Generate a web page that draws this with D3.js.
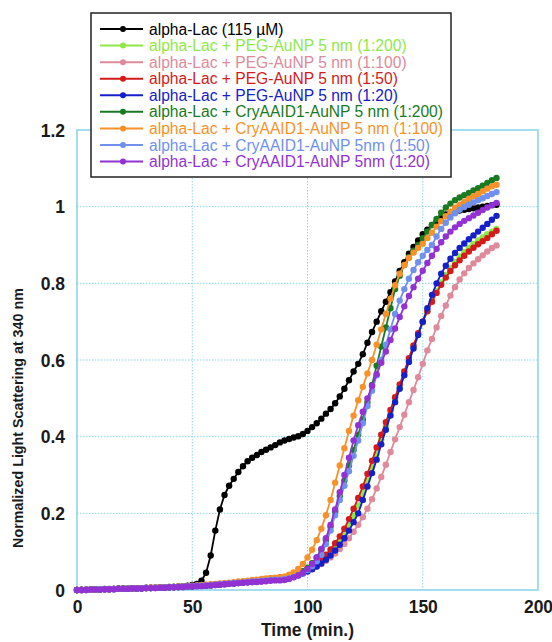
<!DOCTYPE html>
<html>
<head>
<meta charset="utf-8">
<script src="https://cdn.jsdelivr.net/npm/d3@7/dist/d3.min.js"></script>
<style>
  html, body { margin: 0; padding: 0; background: #fff; }
  svg { display: block; font-family: "Liberation Sans", Arial, sans-serif; }
</style>
</head>
<body>
<svg id="chart" width="552" height="642"></svg>
<script>
// Sampling times (min)
const times = [0,2,4,6,8,10,12,14,16,18,20,22,24,26,28,30,32,34,36,38,40,42,44,46,48,50,52,54,56,58,60,62,64,66,68,70,72,74,76,78,80,82,84,86,88,90,92,94,96,98,100,102,104,106,108,110,112,114,116,118,120,122,124,126,128,130,132,134,136,138,140,142,144,146,148,150,152,154,156,158,160,162,164,166,168,170,172,174,176,178,180,182];

// Normalized light scattering at 340 nm, one array per sample
const alphaLac = [0.000,0.001,0.001,0.002,0.002,0.002,0.003,0.003,0.003,0.004,0.004,0.004,0.005,0.005,0.005,0.006,0.006,0.006,0.007,0.007,0.008,0.008,0.009,0.010,0.011,0.013,0.016,0.024,0.045,0.090,0.155,0.210,0.248,0.272,0.290,0.308,0.323,0.336,0.345,0.352,0.360,0.366,0.372,0.378,0.385,0.390,0.394,0.398,0.401,0.407,0.415,0.425,0.435,0.447,0.460,0.472,0.487,0.505,0.525,0.547,0.570,0.590,0.615,0.645,0.673,0.700,0.727,0.752,0.777,0.805,0.832,0.855,0.877,0.895,0.912,0.928,0.940,0.952,0.962,0.972,0.980,0.984,0.987,0.990,0.992,0.994,0.996,0.998,1.000,1.002,1.004,1.005];

const peg200 = [0.000,0.000,0.001,0.001,0.001,0.002,0.002,0.002,0.003,0.003,0.003,0.004,0.004,0.004,0.005,0.005,0.005,0.006,0.006,0.007,0.007,0.008,0.008,0.009,0.009,0.010,0.011,0.011,0.012,0.013,0.014,0.015,0.016,0.017,0.018,0.019,0.020,0.021,0.022,0.024,0.025,0.027,0.029,0.031,0.032,0.033,0.035,0.037,0.041,0.045,0.051,0.057,0.065,0.074,0.085,0.097,0.112,0.128,0.147,0.169,0.193,0.220,0.252,0.285,0.320,0.355,0.392,0.428,0.463,0.497,0.530,0.565,0.600,0.634,0.667,0.698,0.728,0.755,0.780,0.802,0.822,0.840,0.856,0.870,0.882,0.893,0.903,0.912,0.920,0.928,0.935,0.942];

const peg100 = [0.000,0.000,0.001,0.001,0.001,0.002,0.002,0.002,0.003,0.003,0.003,0.004,0.004,0.004,0.005,0.005,0.005,0.006,0.006,0.007,0.007,0.008,0.008,0.009,0.009,0.010,0.011,0.011,0.012,0.013,0.014,0.015,0.016,0.017,0.018,0.019,0.020,0.021,0.022,0.023,0.024,0.026,0.028,0.030,0.032,0.033,0.035,0.038,0.041,0.045,0.050,0.055,0.061,0.068,0.076,0.085,0.095,0.107,0.120,0.135,0.152,0.170,0.190,0.212,0.237,0.265,0.295,0.327,0.360,0.393,0.425,0.457,0.490,0.522,0.555,0.590,0.625,0.655,0.685,0.715,0.742,0.768,0.790,0.810,0.826,0.840,0.852,0.863,0.873,0.883,0.892,0.899];

const peg50 = [0.000,0.000,0.001,0.001,0.001,0.002,0.002,0.002,0.003,0.003,0.003,0.004,0.004,0.004,0.005,0.005,0.006,0.006,0.006,0.007,0.007,0.008,0.008,0.009,0.010,0.010,0.011,0.012,0.013,0.014,0.015,0.016,0.017,0.018,0.019,0.020,0.021,0.022,0.023,0.025,0.026,0.028,0.030,0.031,0.033,0.034,0.036,0.039,0.043,0.048,0.054,0.061,0.070,0.080,0.092,0.106,0.122,0.140,0.160,0.185,0.212,0.240,0.270,0.303,0.337,0.372,0.405,0.438,0.470,0.503,0.536,0.570,0.605,0.638,0.670,0.700,0.727,0.752,0.775,0.796,0.815,0.832,0.847,0.860,0.872,0.883,0.893,0.902,0.910,0.918,0.928,0.937];

const peg20 = [0.000,0.000,0.000,0.001,0.001,0.001,0.002,0.002,0.002,0.003,0.003,0.003,0.004,0.004,0.004,0.005,0.005,0.005,0.006,0.006,0.007,0.007,0.008,0.008,0.009,0.009,0.010,0.011,0.011,0.012,0.013,0.014,0.015,0.016,0.017,0.018,0.019,0.020,0.021,0.022,0.023,0.025,0.027,0.029,0.030,0.032,0.034,0.036,0.039,0.043,0.048,0.054,0.061,0.069,0.079,0.090,0.103,0.118,0.135,0.155,0.177,0.200,0.235,0.270,0.305,0.340,0.380,0.418,0.455,0.490,0.525,0.560,0.595,0.630,0.665,0.700,0.735,0.770,0.800,0.825,0.846,0.864,0.879,0.892,0.904,0.915,0.925,0.935,0.945,0.955,0.966,0.976];

const cry200 = [0.000,0.000,0.001,0.001,0.001,0.002,0.002,0.002,0.003,0.003,0.003,0.004,0.004,0.004,0.005,0.005,0.005,0.006,0.006,0.007,0.007,0.008,0.008,0.009,0.009,0.010,0.011,0.011,0.012,0.013,0.014,0.015,0.016,0.017,0.018,0.019,0.020,0.021,0.022,0.023,0.024,0.025,0.026,0.027,0.028,0.030,0.033,0.037,0.042,0.049,0.058,0.070,0.085,0.105,0.130,0.165,0.205,0.245,0.285,0.325,0.365,0.405,0.445,0.490,0.535,0.585,0.635,0.685,0.735,0.785,0.820,0.848,0.868,0.885,0.900,0.918,0.935,0.952,0.968,0.984,0.998,1.008,1.017,1.024,1.030,1.036,1.042,1.048,1.055,1.062,1.069,1.075];

const cry100 = [0.000,0.000,0.001,0.001,0.001,0.002,0.002,0.002,0.003,0.003,0.003,0.004,0.004,0.005,0.005,0.005,0.006,0.006,0.007,0.007,0.008,0.008,0.009,0.009,0.010,0.011,0.012,0.013,0.014,0.015,0.016,0.017,0.018,0.019,0.020,0.022,0.023,0.024,0.026,0.027,0.029,0.030,0.031,0.032,0.033,0.035,0.040,0.046,0.055,0.068,0.085,0.105,0.130,0.160,0.195,0.235,0.280,0.325,0.370,0.415,0.455,0.495,0.530,0.565,0.600,0.640,0.680,0.720,0.760,0.795,0.825,0.848,0.866,0.880,0.892,0.903,0.918,0.932,0.948,0.962,0.975,0.987,0.997,1.005,1.012,1.020,1.027,1.033,1.040,1.047,1.053,1.057];

const cry50 = [0.000,0.000,0.001,0.001,0.001,0.002,0.002,0.002,0.003,0.003,0.003,0.004,0.004,0.004,0.005,0.005,0.005,0.006,0.006,0.007,0.007,0.008,0.008,0.009,0.009,0.010,0.011,0.011,0.012,0.013,0.014,0.015,0.016,0.017,0.018,0.019,0.020,0.021,0.022,0.023,0.024,0.025,0.026,0.027,0.027,0.028,0.031,0.034,0.038,0.044,0.052,0.062,0.075,0.092,0.120,0.155,0.195,0.235,0.272,0.310,0.350,0.390,0.435,0.480,0.520,0.560,0.600,0.640,0.680,0.720,0.755,0.785,0.812,0.835,0.855,0.872,0.887,0.900,0.922,0.942,0.958,0.972,0.983,0.992,0.999,1.005,1.011,1.017,1.022,1.028,1.033,1.038];

const cry20 = [0.000,0.000,0.000,0.001,0.001,0.001,0.002,0.002,0.002,0.003,0.003,0.003,0.004,0.004,0.004,0.005,0.005,0.005,0.006,0.006,0.007,0.007,0.008,0.008,0.009,0.009,0.010,0.010,0.011,0.012,0.013,0.014,0.015,0.016,0.017,0.018,0.019,0.020,0.021,0.021,0.022,0.023,0.024,0.025,0.025,0.026,0.029,0.033,0.038,0.045,0.055,0.068,0.085,0.107,0.135,0.170,0.210,0.255,0.300,0.345,0.390,0.430,0.465,0.500,0.532,0.563,0.593,0.622,0.652,0.682,0.712,0.740,0.767,0.790,0.812,0.833,0.853,0.872,0.890,0.907,0.922,0.935,0.946,0.955,0.963,0.970,0.977,0.984,0.991,0.998,1.004,1.010];

const seriesNames = [
  "alpha-Lac (115 \u00b5M)",
  "alpha-Lac + PEG-AuNP 5 nm (1:200)",
  "alpha-Lac + PEG-AuNP 5 nm (1:100)",
  "alpha-Lac + PEG-AuNP 5 nm (1:50)",
  "alpha-Lac + PEG-AuNP 5 nm (1:20)",
  "alpha-Lac + CryAAID1-AuNP 5 nm (1:200)",
  "alpha-Lac + CryAAID1-AuNP 5 nm (1:100)",
  "alpha-Lac + CryAAID1-AuNP 5nm (1:50)",
  "alpha-Lac + CryAAID1-AuNP 5nm (1:20)"
];
const seriesValues = [alphaLac, peg200, peg100, peg50, peg20, cry200, cry100, cry50, cry20];
const seriesColors = ["#000000", "#8ee84a", "#de8a9a", "#d41a1a", "#1620c8", "#1a7a22", "#f7922a", "#7090ee", "#9232d2"];

const xTicks = [0, 50, 100, 150, 200];
const yTicks = [0, 0.2, 0.4, 0.6, 0.8, 1, 1.2];

const svg = d3.select("#chart");
const plotLeft = 77, plotRight = 538, plotTop = 130, plotBottom = 590;

const x = d3.scaleLinear().domain([0, 200]).range([plotLeft, plotRight]);
const y = d3.scaleLinear().domain([0, 1.2]).range([plotBottom, plotTop]);

const gridColor = "#8fd6ea";

// dotted grid lines
const grid = svg.append("g");
grid.selectAll("line.vx").data(xTicks.slice(1, -1)).join("line")
  .attr("x1", d => x(d)).attr("x2", d => x(d))
  .attr("y1", plotTop).attr("y2", plotBottom)
  .attr("stroke", gridColor).attr("stroke-width", 1).attr("stroke-dasharray", "1.5,1.5");
grid.selectAll("line.hy").data(yTicks.slice(1, -1)).join("line")
  .attr("x1", plotLeft).attr("x2", plotRight)
  .attr("y1", d => y(d)).attr("y2", d => y(d))
  .attr("stroke", gridColor).attr("stroke-width", 1).attr("stroke-dasharray", "1.5,1.5");

// plot frame
svg.append("rect")
  .attr("x", plotLeft).attr("y", plotTop)
  .attr("width", plotRight - plotLeft).attr("height", plotBottom - plotTop)
  .attr("fill", "none").attr("stroke", "#86d2ea").attr("stroke-width", 1.5);

// axes
const xAxis = svg.append("g")
  .attr("transform", `translate(0,${plotBottom})`)
  .call(d3.axisBottom(x).tickValues(xTicks).tickSize(0).tickPadding(0).tickFormat(d3.format("d")));
xAxis.select(".domain").remove();
xAxis.selectAll("text")
  .attr("y", 23).attr("dy", 0)
  .attr("font-size", 17.5).attr("font-weight", "bold").attr("fill", "#1a1a1a")
  .attr("font-family", "Liberation Sans, Arial, sans-serif");

const yAxis = svg.append("g")
  .attr("transform", `translate(${plotLeft},0)`)
  .call(d3.axisLeft(y).tickValues(yTicks).tickSize(0).tickPadding(0).tickFormat(d => String(+d.toFixed(1))));
yAxis.select(".domain").remove();
yAxis.selectAll("text")
  .attr("x", -12).attr("dy", "0.35em")
  .attr("font-size", 17.5).attr("font-weight", "bold").attr("fill", "#1a1a1a")
  .attr("font-family", "Liberation Sans, Arial, sans-serif");

// axis titles
svg.append("text")
  .attr("x", (plotLeft + plotRight) / 2).attr("y", 636)
  .attr("text-anchor", "middle")
  .attr("font-size", 17.5).attr("font-weight", "bold").attr("fill", "#1a1a1a")
  .text("Time (min.)");
svg.append("text")
  .attr("transform", "translate(23,418) rotate(-90)")
  .attr("text-anchor", "middle")
  .attr("font-size", 14.3).attr("font-weight", "bold").attr("fill", "#1a1a1a")
  .text("Normalized Light Scattering at 340 nm");

// data series
const line = d3.line().x(d => x(d[0])).y(d => y(d[1]));
const plot = svg.append("g");
seriesValues.forEach((vals, i) => {
  const pts = times.map((t, k) => [t, vals[k]]);
  const g = plot.append("g");
  g.append("path").datum(pts)
    .attr("d", line).attr("fill", "none")
    .attr("stroke", seriesColors[i]).attr("stroke-width", 1.8);
  g.selectAll("circle").data(pts).join("circle")
    .attr("cx", d => x(d[0])).attr("cy", d => y(d[1]))
    .attr("r", 3.2).attr("fill", seriesColors[i]);
});

// legend
const legend = svg.append("g");
legend.append("rect")
  .attr("x", 91).attr("y", 13).attr("width", 360).attr("height", 164)
  .attr("fill", "#fff").attr("stroke", "#222").attr("stroke-width", 1.5);
const rowY = d3.scaleLinear().domain([0, 8]).range([29, 161.5]);
seriesNames.forEach((name, i) => {
  const yy = rowY(i);
  legend.append("line")
    .attr("x1", 100).attr("x2", 143).attr("y1", yy).attr("y2", yy)
    .attr("stroke", seriesColors[i]).attr("stroke-width", 2);
  legend.append("circle")
    .attr("cx", 123).attr("cy", yy).attr("r", 3).attr("fill", seriesColors[i]);
  legend.append("text")
    .attr("x", 149).attr("y", yy).attr("dy", "0.36em")
    .attr("font-size", 15.6).attr("fill", seriesColors[i])
    .text(name);
});
</script>
</body>
</html>
